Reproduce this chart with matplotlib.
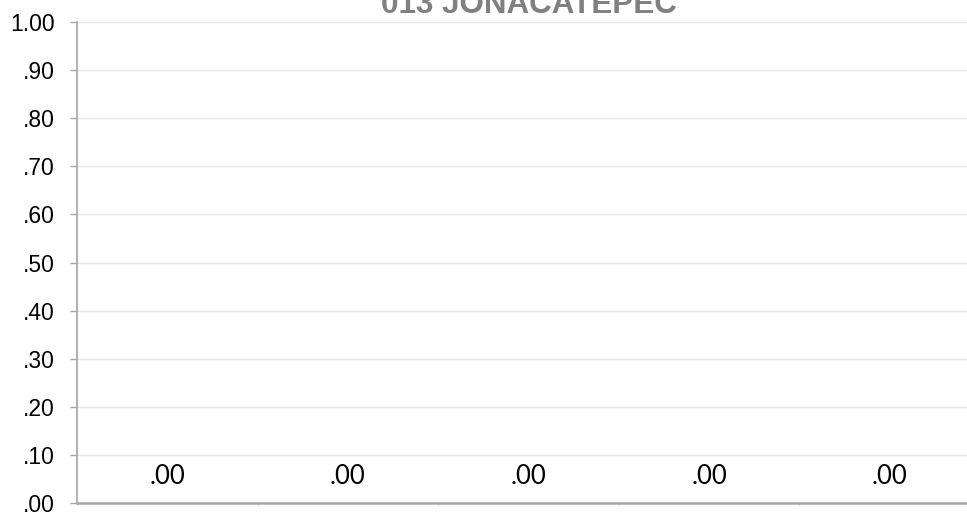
import matplotlib
matplotlib.use("Agg")
import matplotlib.pyplot as plt
import numpy as np

title = "013 JONACATEPEC"
categories = ["", "", "", "", ""]
values = [0.0, 0.0, 0.0, 0.0, 0.0]
yticks = [0.0, 0.1, 0.2, 0.3, 0.4, 0.5, 0.6, 0.7, 0.8, 0.9, 1.0]
ytick_labels = [".00", ".10", ".20", ".30", ".40", ".50", ".60", ".70", ".80", ".90", "1.00"]

fig = plt.figure(figsize=(9.67, 5.12), dpi=100)
ax = fig.add_axes([77/967, 1-503/512, 903/967, (503-22)/512])

x = np.arange(len(categories))
ax.bar(x, values, width=0.6, color="#4472C4")
ax.set_xlim(-0.5, len(categories) - 0.5)
ax.set_ylim(0, 1.0)

ax.set_yticks(yticks)
ax.set_yticklabels(ytick_labels, family="Liberation Sans", fontsize=16.5, color="black")
ax.tick_params(axis="y", length=5, width=1, color="#A6A6A6", pad=11)
ax.set_xticks(x)
ax.set_xticklabels(categories)
ax.tick_params(axis="x", which="major", length=0)
ax.set_xticks(np.arange(len(categories) + 1) - 0.5, minor=True)
ax.tick_params(axis="x", which="minor", length=1.5, width=0.8, color="#D0D0D0")

ax.grid(axis="y", color="#E6E6E6", linewidth=1)
ax.set_axisbelow(True)
for s in ["top", "right"]:
    ax.spines[s].set_visible(False)
ax.spines["left"].set_color("#A6A6A6")
ax.spines["left"].set_linewidth(1.2)
ax.spines["bottom"].set_color("#A6A6A6")
ax.spines["bottom"].set_linewidth(1.8)

for xi, v in zip(x, values):
    ax.annotate(f"{v:.2f}".lstrip("0"), (xi, v), xytext=(0, 10), textcoords="offset points",
                ha="center", va="bottom", family="Lato", fontsize=18.5, color="black")

cx = (77 + 980) / 2 / 967
fig.text(cx, 1 - 12.7/512, title, ha="center", va="baseline", family="Liberation Sans",
         fontweight="bold", fontsize=22.6, color="#808080")

fig.savefig("out.png", dpi=100)
